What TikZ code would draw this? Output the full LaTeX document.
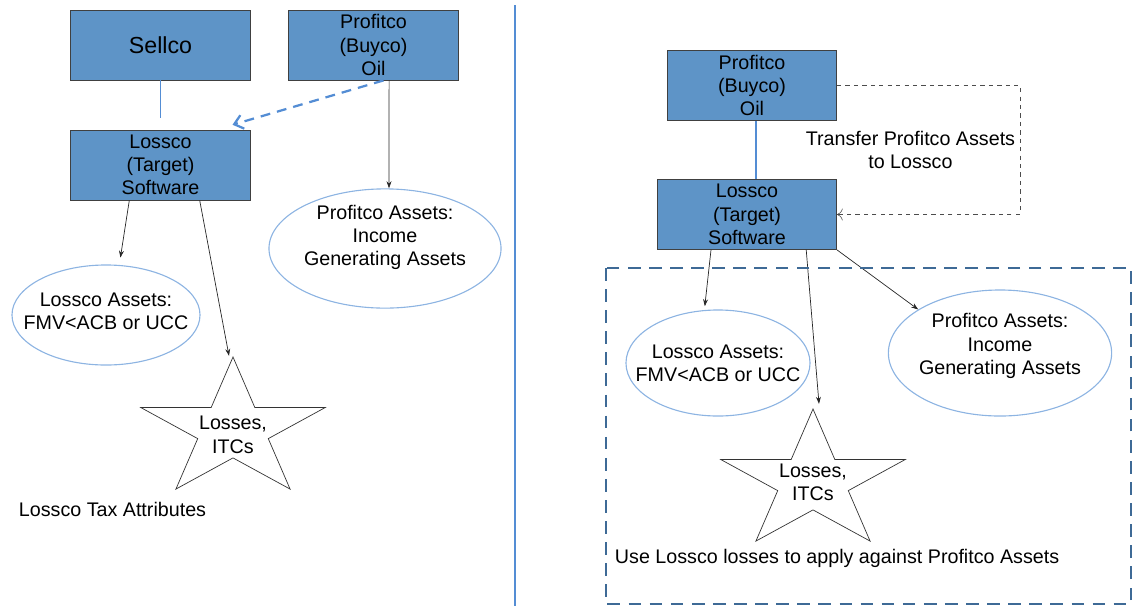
\documentclass[tikz,border=0pt]{standalone}
\usepackage{fontspec}
\setmainfont{Liberation Sans}
\usetikzlibrary{shapes.geometric,arrows.meta}
\definecolor{boxblue}{RGB}{94,148,199}
\definecolor{boxedge}{RGB}{64,64,64}
\definecolor{ellblue}{RGB}{141,180,226}
\definecolor{linkblue}{RGB}{84,141,212}
\definecolor{areablue}{RGB}{62,106,150}
\tikzset{
	every node/.style={font=\fontsize{14}{16.5}\selectfont},
	company/.style={draw=boxedge, fill=boxblue, line width=0.6pt, minimum width=4.48cm, minimum height=1.75cm, align=center, inner sep=1pt},
	assets/.style={ellipse, draw=ellblue, line width=0.8pt, align=center, inner sep=-0.6cm},
	attrstar/.style={star, star points=5, star point ratio=2.618, draw=black!80, line width=0.5pt, minimum size=3.65cm, inner sep=0pt, xscale=1.33, transform shape},
	arr/.style={-{Stealth[length=5pt,width=3.5pt]}, draw=black!85, line width=0.5pt},
	ownline/.style={draw=linkblue, line width=1.2pt},
}
\begin{document}
\begin{tikzpicture}[x=0.025cm, y=-0.025cm]
		\useasboundingbox (0,0) rectangle (1136,606);
		% before
		\node[company, font=\fontsize{16.5}{18}\selectfont] (sellco) at (160.5,45) {Sellco};
		\node[company, minimum width=4.23cm] (profl) at (373.5,45) {Profitco\\(Buyco)\\Oil};
		\node[company] (lossl) at (160.5,165) {Lossco\\(Target)\\Software};
		\node[assets, minimum width=5.8cm, minimum height=2.98cm] (passl) at (385,248.5) {Profitco Assets:\\Income\\Generating Assets\\[1.9pt]};
		\node[assets, minimum width=4.7cm, minimum height=2.5cm] (lassl) at (106,315) {Lossco Assets:\\FMV<ACB or UCC\\[-11.5pt]};
		\node[attrstar, label={[align=center, yshift=-0.12cm]center:{Losses,\\ITCs}}] (lstarl) at (233,430) {};
		\node[anchor=west] (taxl) at (14,509) {Lossco Tax Attributes};
		\draw[ownline] (sellco) -- ([yshift=0.3cm]lossl.north);
		\draw[linkblue, line width=1.6pt, dash pattern=on 7pt off 5pt, -{Straight Barb[length=6pt,width=10pt]}] ([xshift=0.25cm]profl.south) -- ([xshift=-0.45cm,yshift=0.12cm]lossl.north east);
		\draw[arr] ([xshift=0.39cm]profl.south) -- ([xshift=0.1cm]passl.north);
		\draw[arr] ([xshift=-0.78cm]lossl.south) -- ([xshift=0.36cm,yshift=0.17cm]lassl.north);
		\draw[arr] ([xshift=0.98cm]lossl.south) -- ([xshift=-0.1cm]lstarl.north);
		% divider
		\draw[linkblue, line width=1pt] (515,5) -- (515,606);
		% after
		\node[company, minimum width=4.23cm] (profr) at (752,85.5) {Profitco\\(Buyco)\\Oil};
		\node[company] (lossr) at (747,214.5) {Lossco\\(Target)\\Software};
		\node[assets, minimum width=4.6cm, minimum height=2.65cm] (lassr) at (718,363) {Lossco Assets:\\FMV<ACB or UCC};
		\node[assets, minimum width=5.58cm, minimum height=3.15cm] (passr) at (1000,353) {Profitco Assets:\\Income\\Generating Assets\\[-3.7pt]};
		\node[attrstar, label={[align=center]center:{Losses,\\ITCs}}] (lstarr) at (813,482) {};
		\draw[ownline] ([xshift=0.1cm]profr.south) -- ([xshift=0.1cm]profr.south |- lossr.north);
		\draw[draw=black!70, dashed, -{To[length=4pt]}] (profr.east) -- ++(183,0) |- node[pos=0.25, left, align=center] (movetxt) {Transfer Profitco Assets\\to Lossco} (lossr.east);
		\draw[arr] ([xshift=-0.9cm]lossr.south) -- ([xshift=-0.33cm,yshift=0.08cm]lassr.north);
		\draw[arr] ([xshift=1.48cm]lossr.south) -- ([xshift=0.15cm,yshift=0.1cm]lstarr.north);
		\draw[arr] (lossr.south east) -- (passr.152);
		\draw[areablue, line width=1.5pt, dash pattern=on 9pt off 6pt] (606,268) rectangle (1131,604);
		\node[anchor=west] (uselosses) at (610,558) {Use Lossco losses to apply against Profitco Assets};
\end{tikzpicture}
\end{document}
